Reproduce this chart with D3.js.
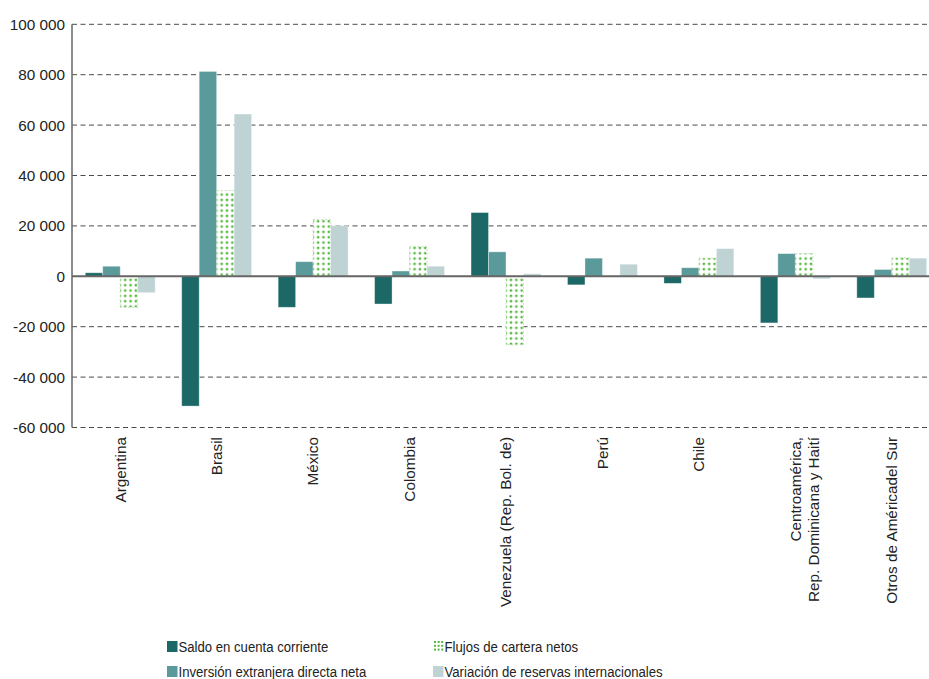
<!DOCTYPE html>
<html><head><meta charset="utf-8">
<script src="https://cdn.jsdelivr.net/npm/d3@7"></script>
<style>body{margin:0;background:#fff}svg{display:block;font-family:"Liberation Sans",Arial,sans-serif}</style>
</head><body>
<svg id="c" width="929" height="679"></svg>
<script>
const categories = ["Argentina","Brasil","México","Colombia","Venezuela (Rep. Bol. de)","Perú","Chile","Centroamérica,\nRep. Dominicana y Haití","Otros de Américadel Sur"];
const seriesNames = ["Saldo en cuenta corriente","Inversión extranjera directa neta","Flujos de cartera netos","Variación de reservas internacionales"];
const saldo    = [1400, -51500, -12300, -11000, 25300, -3400, -2800, -18500, -8600];
const inversion= [4000, 81300, 5800, 2100, 9700, 7200, 3400, 9000, 2700];
const flujos   = [-12300, 34000, 22500, 11900, -27200, 0, 7200, 9000, 7300];
const reservas = [-6500, 64400, 20100, 4000, 1000, 4800, 11000, -1000, 7200];
const yTicks = [-60000,-40000,-20000,0,20000,40000,60000,80000,100000];

const series = [saldo, inversion, flujos, reservas];
const colors = ["#1b6867","#5b9a9b","url(#dots)","#bfd3d5"];

const svg = d3.select("#c");
const defs = svg.append("defs");
const pat = defs.append("pattern").attr("id","dots").attr("patternUnits","userSpaceOnUse")
  .attr("width",5.33).attr("height",5.33);
pat.append("rect").attr("width",5.33).attr("height",5.33).attr("fill","#fff");
pat.append("circle").attr("cx",2.66).attr("cy",2.66).attr("r",1.35).attr("fill","#55b840");

const x0 = d3.scaleBand().domain(categories).range([72, 940]).paddingInner(0.275).paddingOuter(0.1375);
const x1 = d3.scaleBand().domain(d3.range(series.length)).range([0, x0.bandwidth()]);
const y = d3.scaleLinear().domain([-60000, 100000]).range([427.5, 24.3]);

const fmt = v => d3.format(",")(v).replace(/,/g, " ").replace("−","-");

// gridlines
svg.append("g").selectAll("line").data(yTicks.filter(t => t !== 0)).join("line")
  .attr("x1", 72).attr("x2", 940).attr("y1", d => y(d)).attr("y2", d => y(d))
  .attr("stroke", "#4a4a4a").attr("stroke-width", 1).attr("stroke-dasharray", "5,3.5");

// y labels
svg.append("g").selectAll("text").data(yTicks).join("text")
  .attr("x", 65).attr("y", d => y(d)).attr("dy", "0.36em").attr("text-anchor","end")
  .attr("font-size", 15.3).attr("fill","#222").text(d => fmt(d));

// bars
const groups = svg.append("g").selectAll("g").data(categories).join("g")
  .attr("transform", c => `translate(${x0(c)},0)`);
groups.selectAll("rect").data((c, i) => series.map((s, k) => ({k, v: s[i]}))).join("rect")
  .filter(d => d.v !== 0)
  .attr("x", d => x1(d.k)).attr("width", x1.bandwidth())
  .attr("y", d => y(Math.max(0, d.v))).attr("height", d => Math.abs(y(d.v) - y(0)))
  .attr("fill", d => colors[d.k])
  .attr("stroke", d => d.k === 2 ? "#b5e0a8" : "rgba(255,255,255,0.45)")
  .attr("stroke-width", 0.8)
  .attr("stroke-dasharray", d => d.k === 2 ? "2,2" : null);

// zero line and y axis
svg.append("line").attr("x1",72).attr("x2",940).attr("y1",y(0)).attr("y2",y(0))
  .attr("stroke","#666").attr("stroke-width",2);
svg.append("line").attr("x1",72).attr("x2",72).attr("y1",y(100000)).attr("y2",y(-60000))
  .attr("stroke","#666").attr("stroke-width",1.5);

// x labels
const xl = svg.append("g").selectAll("text").data(categories).join("text")
  .attr("transform", c => `translate(${x0(c) + x0.bandwidth()/2},437) rotate(-90)`)
  .attr("text-anchor","end").attr("font-size",15.3).attr("fill","#222");
xl.each(function(c){
  const lines = c.split("\n");
  d3.select(this).selectAll("tspan").data(lines).join("tspan")
    .attr("x",0).attr("dy",(d,i) => i === 0 ? "0.35em" : "1.2em").text(d => d);
});

// legend
const legendPos = [[167,652],[167,677],[433,652],[433,677]];
[0,1,2,3].forEach(k => {
  const [lx, ly] = legendPos[k];
  if (k === 2) {
    const g = svg.append("g");
    for (let r = 0; r < 3; r++) for (let c2 = 0; c2 < 3; c2++)
      g.append("rect").attr("x", lx + 1 + c2*3.6).attr("y", ly - 11 + r*3.8).attr("width",2).attr("height",2).attr("fill","#55b840");
  } else {
    svg.append("rect").attr("x", lx).attr("y", ly - 11).attr("width", 10.5).attr("height", 11).attr("fill", colors[k]);
  }
  svg.append("text").attr("transform", `translate(${lx + 11.5},${ly}) scale(0.86,1)`)
    .attr("font-size",15.3).attr("fill","#222").text(seriesNames[k]);
});
</script>
</body></html>
